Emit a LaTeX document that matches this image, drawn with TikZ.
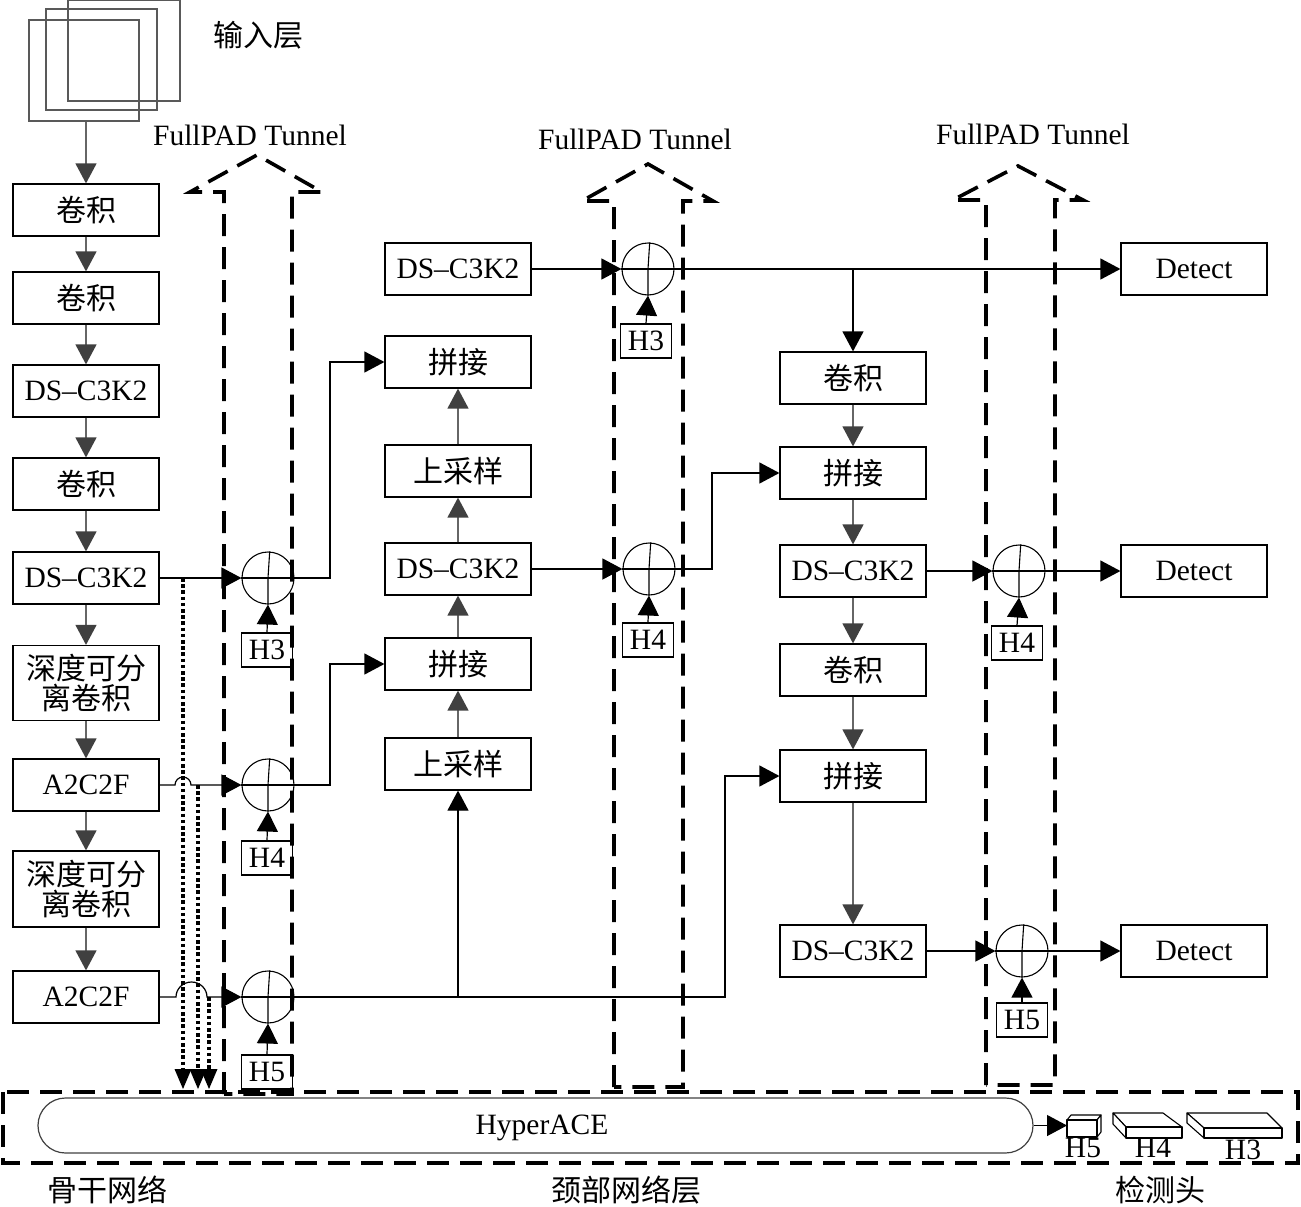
\documentclass[tikz,border=0pt]{standalone}
\usepackage{fontspec}
\setmainfont{Liberation Serif}
\newfontfamily\cjk{Noto Sans CJK SC}
\usetikzlibrary{arrows.meta,calc}
\newcommand\lat{\fontsize{29.5}{33}\selectfont}
\newcommand\zh{\cjk\fontsize{30}{36}\selectfont}
\tikzset{
  blk/.style={line width=1.2pt, -{Triangle[length=20pt,width=21pt]}},
  gry/.style={draw=black!60, line width=1.3pt, -{Triangle[length=20pt,width=21pt,color=black!75]}},
  dotarrow/.style={line width=4pt, dash pattern=on 3.6pt off 2.6pt, -{Triangle[length=20pt,width=17pt,line width=0pt]}},
  boxn/.style={draw, line width=1.2pt, minimum width=146pt, minimum height=52pt, inner sep=0pt},
  zhbox/.style={boxn, font=\zh},
  latbox/.style={boxn, font=\lat},
  hbox/.style={draw, line width=1.1pt, minimum width=51pt, minimum height=34pt, inner sep=0pt, font=\lat},
  sumc/.style={draw, circle, line width=1.1pt, minimum size=52pt, inner sep=0pt},
  tunnel/.style={line width=3.6pt, dash pattern=on 22pt off 11pt},
  slab/.style={draw, line width=1.1pt, fill=white, line join=round},
}
\begin{document}
\begin{tikzpicture}[x=1pt,y=-1pt]
\useasboundingbox (0,0) rectangle (1301,1207);

% input layer
\draw[black!65, line width=1.3pt] (68,0) rectangle (180,101);
\draw[black!65, line width=1.3pt] (46,9) rectangle (157,110);
\node[draw=black!65, line width=1.3pt, minimum width=110pt, minimum height=101pt, inner sep=0pt] (in) at (84,70.5) {};
\node[font=\zh] (inlab) at (258,35) {输入层};

% tunnels
\draw[tunnel] (224,1094) -- (224,192) -- (190,192) -- (257,155) -- (322,192) -- (292,192) -- (292,1094) -- cycle;
\draw[tunnel] (614,1087) -- (614,201) -- (582,201) -- (648,164) -- (713,201) -- (683,201) -- (683,1087) -- cycle;
\draw[tunnel] (986,1085) -- (986,200) -- (953,200) -- (1018,166) -- (1083,200) -- (1055,200) -- (1055,1085) -- cycle;
\node[font=\lat] (ft1) at (250,135) {FullPAD Tunnel};
\node[font=\lat] (ft2) at (635,139) {FullPAD Tunnel};
\node[font=\lat] (ft3) at (1033,134) {FullPAD Tunnel};

% left column
\node[zhbox] (L1) at (86,210) {卷积};
\node[zhbox] (L2) at (86,298) {卷积};
\node[latbox] (L3) at (86,391) {DS–C3K2};
\node[zhbox] (L4) at (86,484) {卷积};
\node[latbox] (L5) at (86,578) {DS–C3K2};
\node[zhbox, minimum height=75pt, align=center] (L6) at (86,683) {深度可分\\[-6pt]离卷积};
\node[latbox] (L7) at (86,785) {A2C2F};
\node[zhbox, minimum height=76pt, align=center] (L8) at (86,889) {深度可分\\[-6pt]离卷积};
\node[latbox] (L9) at (86,997) {A2C2F};

\draw[gry] (in.south -| L1.north) -- (L1.north);
\foreach \a/\b in {L1/L2,L2/L3,L3/L4,L4/L5,L5/L6,L6/L7,L7/L8,L8/L9}
  \draw[gry] (\a.south) -- (\b.north);

% middle column
\node[latbox] (M1) at (458,269) {DS–C3K2};
\node[zhbox] (M2) at (458,362) {拼接};
\node[zhbox] (M3) at (458,471) {上采样};
\node[latbox] (M4) at (458,569) {DS–C3K2};
\node[zhbox] (M5) at (458,664) {拼接};
\node[zhbox] (M6) at (458,764) {上采样};
\foreach \a/\b in {M3/M2,M4/M3,M5/M4,M6/M5}
  \draw[gry] (\a.north) -- (\b.south);

% right column
\node[zhbox] (R1) at (853,378) {卷积};
\node[zhbox] (R2) at (853,473) {拼接};
\node[latbox] (R3) at (853,571) {DS–C3K2};
\node[zhbox] (R4) at (853,670) {卷积};
\node[zhbox] (R5) at (853,776) {拼接};
\node[latbox] (R6) at (853,951) {DS–C3K2};
\foreach \a/\b in {R1/R2,R2/R3,R3/R4,R4/R5,R5/R6}
  \draw[gry] (\a.south) -- (\b.north);

% detect
\node[latbox] (D1) at (1194,269) {Detect};
\node[latbox] (D2) at (1194,571) {Detect};
\node[latbox] (D3) at (1194,951) {Detect};

% sum circles
\node[sumc] (s1) at (268,578) {};
\node[sumc] (s2) at (268,785) {};
\node[sumc] (s3) at (268,997) {};
\node[sumc] (t1) at (648,269) {};
\node[sumc] (t2) at (649,569) {};
\node[sumc] (u1) at (1019,571) {};
\node[sumc] (u2) at (1022,951) {};
\foreach \c in {s1,s2,s3,t1,t2,u1,u2}{
  \draw[line width=1.1pt] (\c.west) -- (\c.east);
  \draw[line width=1.1pt] (\c.south) -- (\c.center) -- ($(\c.north)+(1.7,0)$);
}

% H boxes
\node[hbox] (hs1) at (267,650) {H3};
\node[hbox] (hs2) at (267,858) {H4};
\node[hbox] (hs3) at (267,1072) {H5};
\node[hbox] (ht1) at (646,341) {H3};
\node[hbox] (ht2) at (648,640) {H4};
\node[hbox] (hu1) at (1017,643) {H4};
\node[hbox] (hu2) at (1022,1020) {H5};
\foreach \h/\c in {hs1/s1,hs2/s2,hs3/s3,ht1/t1,ht2/t2,hu1/u1,hu2/u2}
  \draw[blk] (\h.north) -- (\c.south);

% connectors into the circles (with hops)
\draw[blk] (L5.east) -- (s1.west);
\draw[blk] (L7.east) -- (175,785) arc[start angle=180,end angle=0,radius=8pt] -- (s2.west);
\draw[blk] (L9.east) -- (176,997) arc[start angle=180,end angle=0,x radius=15.5pt,y radius=15pt] -- (s3.west);
\draw[blk] (M1.east) -- (t1.west);
\draw[blk] (M4.east) -- (t2.west);
\draw[blk] (R3.east) -- (u1.west);
\draw[blk] (R6.east) -- (u2.west);

% dotted links to HyperACE
\coordinate (d1) at (183,578);
\coordinate (d2) at (198,785);
\coordinate (d3) at (209,997);
\draw[dotarrow] (d1) -- (183,1089);
\draw[dotarrow] (d2) -- (198,1089);
\draw[dotarrow] (d3) -- (209,1089);

% outputs of circles
\draw[blk] (s1.east) -- (330,578) |- (M2.west);
\draw[blk] (s2.east) -- (330,785) |- (M5.west);
\coordinate (j1) at (458,997);
\draw[blk] (s3.east) -- (725,997) |- (R5.west);
\draw[blk] (j1) -- (M6.south);
\draw[blk] (t1.east) -- (D1.west);
\coordinate (j2) at (853,269);
\draw[blk] (j2) -- (R1.north);
\draw[blk] (t2.east) -- (712,569) |- (R2.west);
\draw[blk] (u1.east) -- (D2.west);
\draw[blk] (u2.east) -- (D3.west);

% HyperACE
\draw[tunnel] (3,1092) rectangle (1298,1163);
\node[draw=black!75, line width=1.2pt, rounded corners=27.5pt, minimum width=995pt, minimum height=55pt, inner sep=0pt, font=\lat] (hace) at (535.5,1125.5) {};
\node[font=\lat] (hacelab) at (542,1128) {HyperACE};
\coordinate (c5) at (1067,1125.5);
\draw[blk] (hace.east) -- (c5);

% detection head slabs
\draw[slab] (1067,1120) -- (1071,1115) -- (1101,1115) -- (1097,1120) -- cycle;
\draw[slab] (1097,1120) -- (1101,1115) -- (1101,1132) -- (1097,1137) -- cycle;
\draw[slab] (1067,1120) rectangle (1097,1137);
\draw[slab] (1113,1113) -- (1163,1113) -- (1182,1127) -- (1126,1127) -- cycle;
\draw[slab] (1113,1113) -- (1126,1127) -- (1126,1138) -- (1113,1124) -- cycle;
\draw[slab] (1126,1127) rectangle (1182,1138);
\draw[slab] (1187,1113) -- (1267,1113) -- (1282,1128) -- (1204,1128) -- cycle;
\draw[slab] (1187,1113) -- (1204,1128) -- (1204,1138) -- (1187,1123) -- cycle;
\draw[slab] (1204,1128) rectangle (1282,1138);
\node[font=\lat] (h5l) at (1083,1148) {H5};
\node[font=\lat] (h4l) at (1153,1148) {H4};
\node[font=\lat] (h3l) at (1243,1150) {H3};

% section labels
\node[font=\zh] (lb1) at (107,1190) {骨干网络};
\node[font=\zh] (lb2) at (626,1190) {颈部网络层};
\node[font=\zh] (lb3) at (1160,1190) {检测头};
\end{tikzpicture}
\end{document}
